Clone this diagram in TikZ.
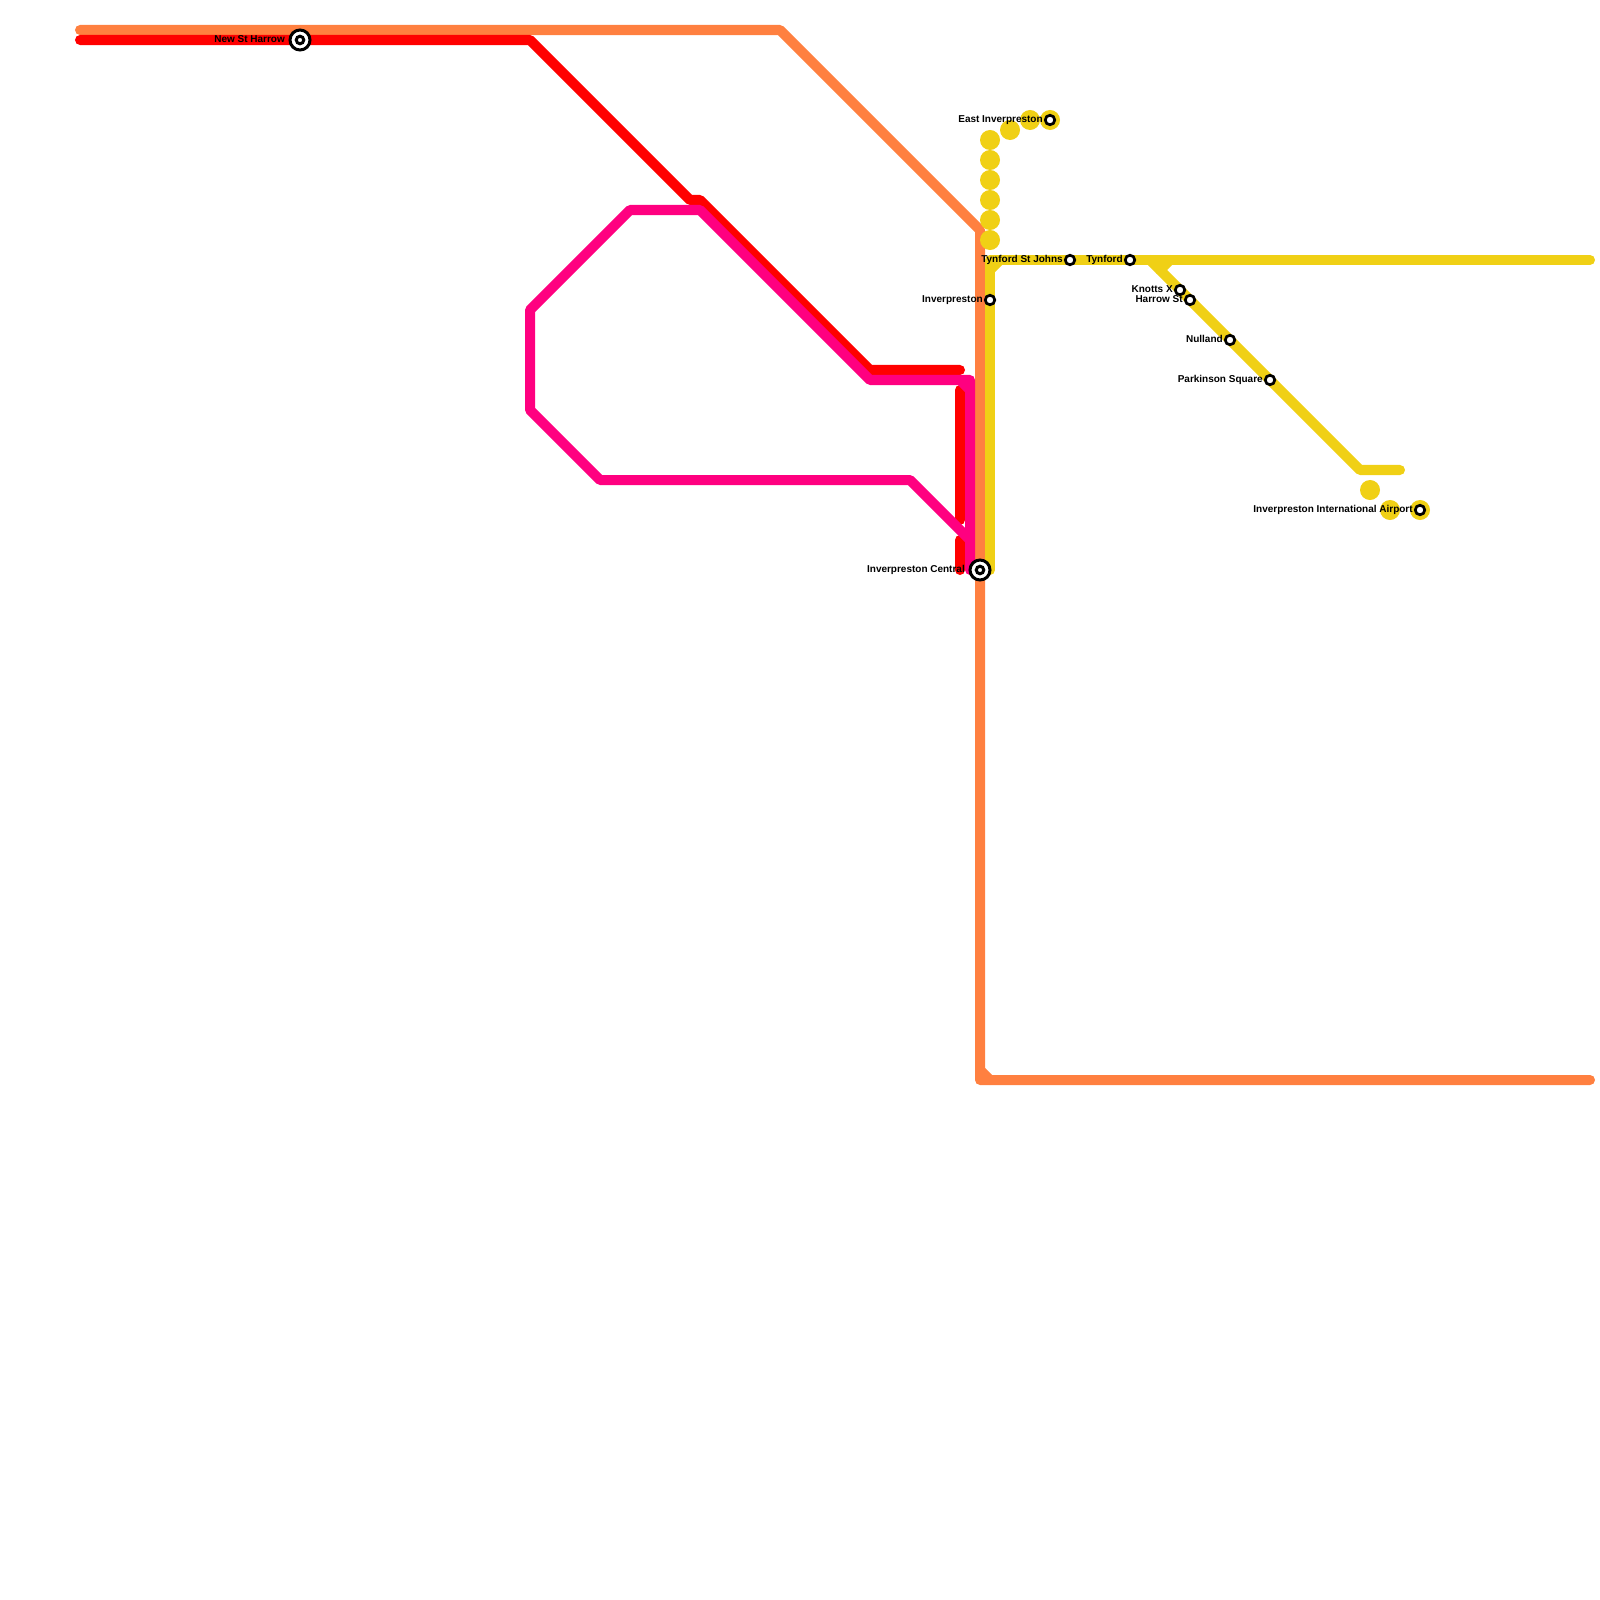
\documentclass[tikz,border=0pt]{standalone}
\usepackage{fontspec}
\setmainfont{Liberation Sans}
\usepackage{tikz}
\usetikzlibrary{positioning}
\definecolor{linecoral}{HTML}{FF8040}
\definecolor{linered}{HTML}{FF0000}
\definecolor{linepink}{HTML}{FF0080}
\definecolor{lineyellow}{HTML}{F0D015}

\begin{document}
\begin{tikzpicture}[x=0.01cm,y=-0.01cm,node distance=0.05mm,
line/.style={line width=0.1cm,line cap=round,line join=round},
dot/.style={circle,fill=lineyellow,minimum size=0.2cm,inner sep=0},
stn/.style={circle,draw=black,fill=white,line width=0.027cm,minimum size=0.095cm,inner sep=0},
hub/.style={circle,draw=black,fill=white,line width=0.03cm,minimum size=0.2cm,inner sep=0},
hubin/.style={circle,draw=black,fill=white,line width=0.03cm,minimum size=0.075cm,inner sep=0},
lbl/.style={font=\fontsize{2.84pt}{3.4pt}\bfseries,inner sep=0,text height=1.6pt,text depth=0pt}]
\useasboundingbox (0,0) rectangle (1600,1600);
% bends
\coordinate (c1) at (80,30);
\coordinate (c2) at (780,30);
\coordinate (c3) at (980,230);
\coordinate (c4) at (980,1080);
\coordinate (c5) at (1590,1080);
\coordinate (c6) at (980,1070);
\coordinate (c7) at (990,1080);
\coordinate (r1) at (80,40);
\coordinate (r2) at (530,40);
\coordinate (r3) at (690,200);
\coordinate (r4) at (700,200);
\coordinate (r5) at (870,370);
\coordinate (r6) at (960,370);
\coordinate (r7) at (960,390);
\coordinate (r8) at (960,520);
\coordinate (r9) at (960,540);
\coordinate (r10) at (960,570);
\coordinate (p1) at (970,570);
\coordinate (p2) at (970,380);
\coordinate (p3) at (870,380);
\coordinate (p4) at (700,210);
\coordinate (p5) at (630,210);
\coordinate (p6) at (530,310);
\coordinate (p7) at (530,410);
\coordinate (p8) at (600,480);
\coordinate (p9) at (910,480);
\coordinate (p10) at (970,540);
\coordinate (p11) at (960,380);
\coordinate (p12) at (970,390);
\coordinate (y1) at (990,570);
\coordinate (y2) at (990,260);
\coordinate (y3) at (1590,260);
\coordinate (y4) at (990,270);
\coordinate (y5) at (1000,260);
\coordinate (y6) at (1150,260);
\coordinate (y7) at (1360,470);
\coordinate (y8) at (1400,470);
\coordinate (y9) at (1160,270);
\coordinate (y10) at (1170,260);
% lines
\draw[line,linecoral] (c1) -- (c2) -- (c3) -- (c4) -- (c5);
\draw[line,linecoral] (c6) -- (c7);
\draw[line,linered] (r1) -- (r2) -- (r3) -- (r4) -- (r5) -- (r6);
\draw[line,linered] (r7) -- (r8);
\draw[line,linered] (r9) -- (r10);
\draw[line,linepink] (p1) -- (p2) -- (p3) -- (p4) -- (p5) -- (p6) -- (p7) -- (p8) -- (p9) -- (p10);
\draw[line,linepink] (p11) -- (p12);
\draw[line,lineyellow] (y1) -- (y2) -- (y3);
\draw[line,lineyellow] (y4) -- (y5);
\draw[line,lineyellow] (y6) -- (y7) -- (y8);
\draw[line,lineyellow] (y9) -- (y10);
% yellow dots
\node[dot] (d1) at (990,240) {};
\node[dot] (d2) at (990,220) {};
\node[dot] (d3) at (990,200) {};
\node[dot] (d4) at (990,180) {};
\node[dot] (d5) at (990,160) {};
\node[dot] (d6) at (990,140) {};
\node[dot] (d7) at (1010,130) {};
\node[dot] (d8) at (1030,120) {};
\node[dot] (d9) at (1050,120) {};
\node[dot] (d10) at (1370,490) {};
\node[dot] (d11) at (1390,510) {};
\node[dot] (d12) at (1420,510) {};
% stations
\node[hub] (harrowhub) at (300,40) {};
\node[hubin] (harrow) at (300,40) {};
\node[hub] (centralhub) at (980,570) {};
\node[hubin] (central) at (980,570) {};
\node[stn] (east) at (1050,120) {};
\node[stn] (johns) at (1070,260) {};
\node[stn] (tynford) at (1130,260) {};
\node[stn] (inver) at (990,300) {};
\node[stn] (knotts) at (1180,290) {};
\node[stn] (harrowst) at (1190,300) {};
\node[stn] (nulland) at (1230,340) {};
\node[stn] (parkinson) at (1270,380) {};
\node[stn] (airport) at (1420,510) {};
% labels
\node[lbl,left=0.3mm of harrowhub] (harrowlbl) {New St Harrow};
\node[lbl,left=0.3mm of centralhub] (centrallbl) {Inverpreston Central};
\node[lbl,left=of east] (eastlbl) {East Inverpreston};
\node[lbl,left=of johns] (johnslbl) {Tynford St Johns};
\node[lbl,left=of tynford] (tynfordlbl) {Tynford};
\node[lbl,left=of inver] (inverlbl) {Inverpreston};
\node[lbl,left=of knotts] (knottslbl) {Knotts X};
\node[lbl,left=of harrowst] (harrowstlbl) {Harrow St};
\node[lbl,left=of nulland] (nullandlbl) {Nulland};
\node[lbl,left=of parkinson] (parkinsonlbl) {Parkinson Square};
\node[lbl,left=of airport] (airportlbl) {Inverpreston International Airport};
\end{tikzpicture}
\end{document}
